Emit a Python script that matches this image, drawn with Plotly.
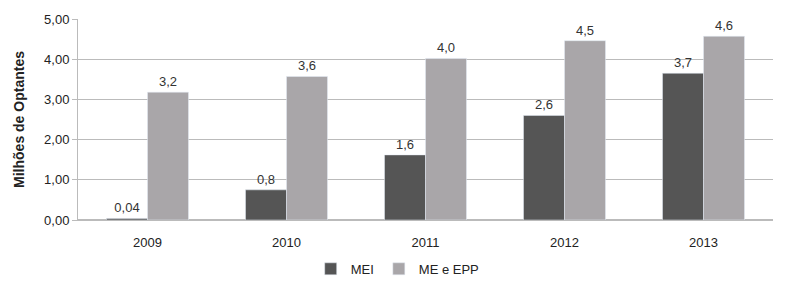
import plotly.graph_objects as go

years = ["2009", "2010", "2011", "2012", "2013"]
mei = [0.04, 0.75, 1.62, 2.6, 3.65]
mei_labels = ["0,04", "0,8", "1,6", "2,6", "3,7"]
me_epp = [3.18, 3.57, 4.02, 4.46, 4.57]
me_epp_labels = ["3,2", "3,6", "4,0", "4,5", "4,6"]
y_ticks = [0, 1, 2, 3, 4, 5]
y_tick_labels = ["0,00", "1,00", "2,00", "3,00", "4,00", "5,00"]

fig = go.Figure()
fig.add_trace(go.Bar(name="MEI", x=years, y=mei, text=mei_labels,
                     textposition="outside", marker_color="#555555",
                     textfont=dict(size=13, color="#333333"), cliponaxis=False))
fig.add_trace(go.Bar(name="ME e EPP", x=years, y=me_epp, text=me_epp_labels,
                     textposition="outside", marker_color="#a9a6a9",
                     textfont=dict(size=13, color="#333333"), cliponaxis=False))

fig.update_layout(
    width=792, height=283,
    margin=dict(l=78, r=19, t=19, b=63, autoexpand=False),
    paper_bgcolor="white", plot_bgcolor="white",
    barmode="group", bargap=0.41, bargroupgap=0,
    font=dict(family="Liberation Sans, Arial, sans-serif", size=13, color="#222222"),
    legend=dict(orientation="h", x=0.46, xanchor="center",
                yref="container", y=0.05, yanchor="middle",
                font=dict(size=13, color="#222222"), itemwidth=30,
                tracegroupgap=0, traceorder="normal"),
    yaxis=dict(range=[0, 5], tickvals=y_ticks, ticktext=y_tick_labels,
               showgrid=True, gridcolor="#bbbbbb", gridwidth=1,
               zeroline=True, zerolinecolor="#bbbbbb",
               showline=True, linecolor="#bbbbbb",
               ticks="outside", ticklen=5, tickcolor="#bbbbbb",
               automargin=False,
               title=dict(text="<b>Milhões de Optantes</b>", font=dict(size=14), standoff=16),
               tickfont=dict(size=13)),
    xaxis=dict(showline=True, linecolor="#bbbbbb", tickfont=dict(size=13),
               ticks="outside", ticklen=10, tickcolor="rgba(0,0,0,0)",
               automargin=False),
)

fig.write_html("out.html", config={"displayModeBar": False},
               post_script="document.body.style.margin='0';")
